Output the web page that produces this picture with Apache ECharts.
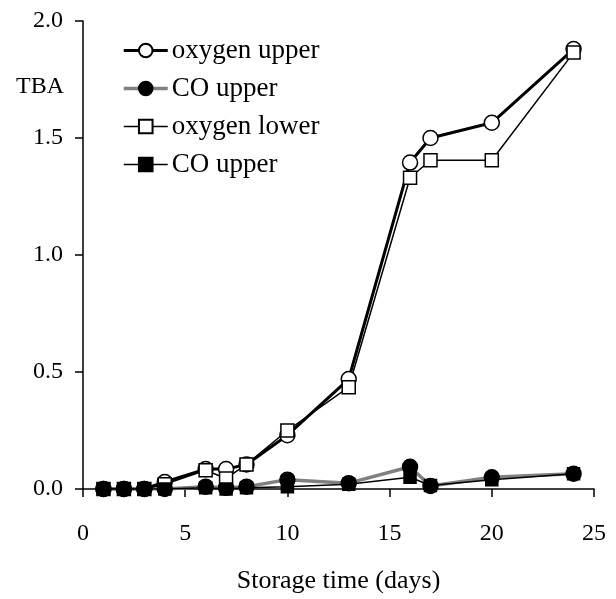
<!DOCTYPE html>
<html>
<head>
<meta charset="utf-8">
<script src="https://cdn.jsdelivr.net/npm/echarts@6/dist/echarts.min.js"></script>
<style>
html,body{margin:0;padding:0;background:#fff;}
#chart{width:616px;height:599px;}
</style>
</head>
<body>
<div id="chart"></div>
<script>
// 贮藏天数
var days = [1, 2, 3, 4, 6, 7, 8, 10, 13, 16, 17, 20, 24];
// TBA 数值
var oxygenUpper = [0, 0, 0, 0.03, 0.085, 0.085, 0.105, 0.23, 0.47, 1.395, 1.5, 1.565, 1.88];
var coUpper = [0, 0, 0, 0, 0.01, 0.005, 0.01, 0.04, 0.025, 0.095, 0.013, 0.05, 0.065];
var oxygenLower = [0, 0, 0, 0.02, 0.08, 0.045, 0.105, 0.25, 0.435, 1.33, 1.405, 1.405, 1.865];
var coUpper2 = [0, 0, 0, 0, 0.005, 0, 0.005, 0.01, 0.02, 0.05, 0.015, 0.04, 0.065];
var seriesNames = ['oxygen upper', 'CO upper', 'oxygen lower', 'CO upper '];
var lineWidths = [3, 3.5, 1.5, 1.5];
var lineColors = ['#000', '#808080', '#000', '#000'];

var FONT = 'Liberation Serif';

function pairs(vals){
	var out = [];
	for (var i = 0; i < days.length; i++) {
		out.push([days[i], vals[i]]);
	}
	return out;
}

//args:[序号,数据,符号,填充色,符号大小]
function makeSeries(args){
	var i = args[0];
	return {
		name: seriesNames[i],
		type: 'line',
		data: pairs(args[1]),
		symbol: args[2],
		symbolSize: args[4],
		showAllSymbol: true,
		lineStyle: {width: lineWidths[i], color: lineColors[i]},
		itemStyle: {color: args[3], borderColor: '#000', borderWidth: 1.5},
		emphasis: {disabled: true},
		animation: false
	};
}

var legendData = [];
for (var k = 0; k < seriesNames.length; k++) {
	legendData.push({name: seriesNames[k], lineStyle: {width: lineWidths[k], color: lineColors[k]}});
}

var options = {
	animation: false,
	grid: {left: 83, right: 22, top: 21, bottom: 110},
	legend: {
		left: 122,
		top: 37,
		padding: 0,
		orient: 'vertical',
		itemWidth: 44,
		itemHeight: 17,
		itemGap: 11,
		textStyle: {fontFamily: FONT, fontSize: 27, color: '#000', padding: [0, 0, 0, -1]},
		data: legendData
	},
	xAxis: {
		type: 'value',
		min: 0,
		max: 25,
		interval: 5,
		name: 'Storage time (days)',
		nameLocation: 'middle',
		nameGap: 79,
		nameTextStyle: {fontFamily: FONT, fontSize: 26, color: '#000'},
		axisLine: {lineStyle: {color: '#000', width: 1.5}},
		axisTick: {show: true, length: 8, lineStyle: {color: '#000', width: 1.5}},
		axisLabel: {fontFamily: FONT, fontSize: 24, color: '#000', margin: 33},
		splitLine: {show: false}
	},
	yAxis: {
		type: 'value',
		min: 0,
		max: 2,
		interval: 0.5,
		name: 'TBA',
		nameLocation: 'end',
		nameGap: -78,
		nameTextStyle: {fontFamily: FONT, fontSize: 24, color: '#000', align: 'right', padding: [0, 19, 0, 0]},
		axisLine: {show: true, lineStyle: {color: '#000', width: 1.5}},
		axisTick: {show: true, length: 8, lineStyle: {color: '#000', width: 1.5}},
		axisLabel: {fontFamily: FONT, fontSize: 24, color: '#000', margin: 20,
			formatter: function(v){ return v.toFixed(1); }},
		splitLine: {show: false}
	},
	series: [
		makeSeries([0, oxygenUpper, 'circle', '#fff', 15]),
		makeSeries([1, coUpper, 'circle', '#000', 15]),
		makeSeries([2, oxygenLower, 'rect', '#fff', 13]),
		makeSeries([3, coUpper2, 'rect', '#000', 12])
	]
};

var chart = echarts.init(document.getElementById('chart'));
chart.setOption(options);
</script>
</body>
</html>
